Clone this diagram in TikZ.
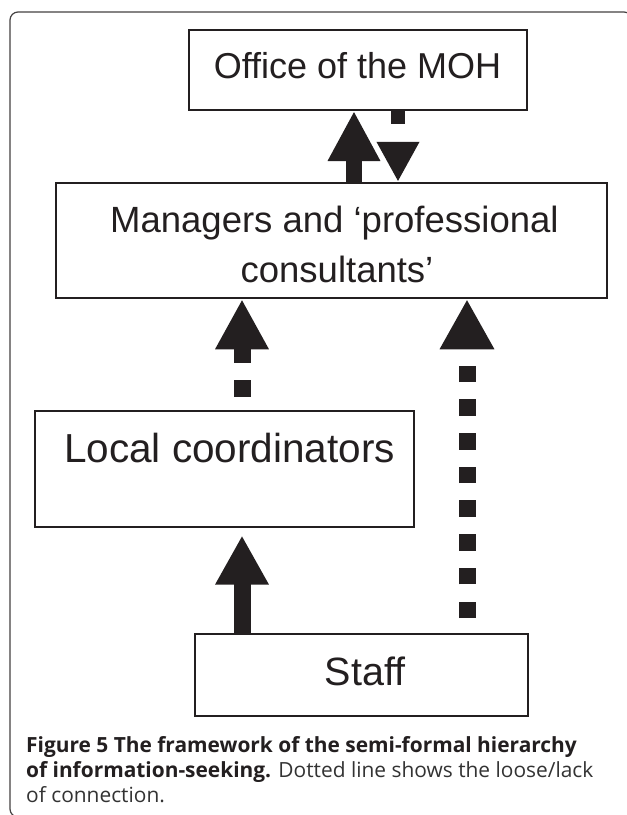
\documentclass[tikz,border=0pt]{standalone}
\usepackage{fontspec}
\setmainfont{Liberation Sans}
\newfontfamily\capfont[Ligatures=NoCommon]{Open Sans}
\usetikzlibrary{arrows.meta}
\definecolor{ink}{HTML}{231F20}
\definecolor{capgrey}{HTML}{333333}
\tikzset{
  box/.style={draw=ink, line width=2pt, rectangle, inner sep=0pt},
  label/.style={text=ink, inner sep=0pt, anchor=base},
  capline/.style={anchor=base west, inner sep=0pt, text=ink, font=\capfont\fontsize{20.9}{25}\selectfont},
  bigsolid/.style={draw=ink, line width=16pt, -{Triangle[width=49pt,length=50pt]}},
  bigsolidb/.style={draw=ink, line width=17pt, -{Triangle[width=50pt,length=49pt]}},
  smalldash/.style={draw=ink, line width=13.6pt, dash pattern=on 13pt off 20pt, -{Triangle[width=40pt,length=40pt]}},
  bigdashA/.style={draw=ink, line width=17pt, dash pattern=on 17pt off 17pt, dash phase=21pt, -{Triangle[width=50pt,length=50pt]}},
  bigdashB/.style={draw=ink, line width=17pt, dash pattern=on 16.5pt off 17.2pt, dash phase=18.7pt, -{Triangle[width=51pt,length=50pt]}},
  framestyle/.style={draw=ink!85, line width=1.2pt, rounded corners=8pt}
}
\begin{document}
\begin{tikzpicture}[x=1pt,y=-1pt]
\useasboundingbox (0,0) rectangle (627,815);
\fill[white] (0,0) rectangle (627,815);
\draw[framestyle] (10,12) rectangle (632,817);

% boxes
\node[box, minimum width=337.6pt, minimum height=80pt] (office) at (358.2,70) {};
\node[box, minimum width=551pt, minimum height=115.5pt] (managers) at (331.5,240.5) {};
\node[box, minimum width=378.4pt, minimum height=116pt] (local) at (224.6,468.5) {};
\node[box, minimum width=333pt, minimum height=82pt] (staff) at (361.5,675) {};

% texts
\node[label, font=\fontsize{36}{40}\selectfont] (officetxt) at (357.5,78) {Office of the MOH};
\node[label, font=\fontsize{36.5}{40}\selectfont] (managerstxtA) at (334.4,232) {Managers and ‘professional};
\node[label, font=\fontsize{36.5}{40}\selectfont] (managerstxtB) at (337,282) {consultants’};
\node[label, font=\fontsize{40.5}{44}\selectfont] (localtxt) at (229.6,462) {Local coordinators};
\node[label, font=\fontsize{39.5}{44}\selectfont] (stafftxt) at (365,685) {Staff};

% columns
\coordinate (c1) at (354,0);
\coordinate (c2) at (398,0);
\coordinate (c3) at (242,0);
\coordinate (c5) at (467,0);

% connectors
\draw[bigsolid] (c1 |- managers.north) -- (c1 |- office.south);
\draw[smalldash] (c2 |- office.south) -- (c2 |- managers.north);
\draw[bigdashA] (c3 |- local.north) -- (c3 |- managers.south);
\draw[bigsolidb, shorten >=8pt] (c3 |- staff.north) -- (c3 |- local.south);
\draw[bigdashB] (c5 |- staff.north) -- (c5 |- managers.south);

% caption
\node[capline] (capA) at (26,752) {\textbf{Figure 5 The framework of the semi-formal hierarchy}};
\node[capline] (capB) at (26,777) {\textbf{of information-seeking.} \textcolor{capgrey}{Dotted line shows the loose/lack}};
\node[capline] (capC) at (26,802) {\textcolor{capgrey}{of connection.}};
\end{tikzpicture}
\end{document}
